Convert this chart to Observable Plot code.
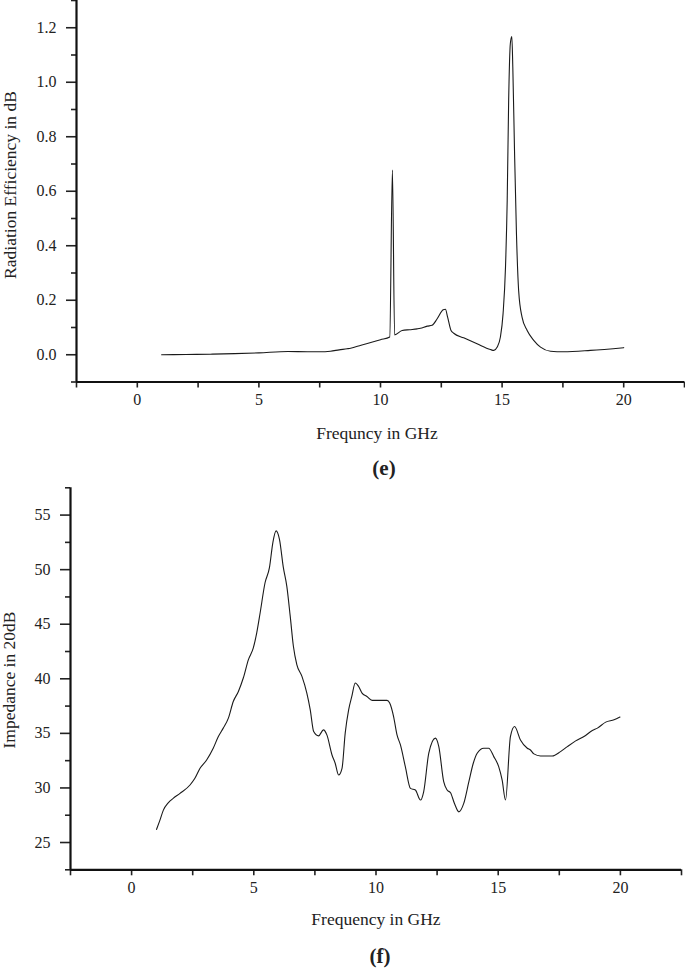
<!DOCTYPE html>
<html>
<head>
<meta charset="utf-8">
<script src="https://cdn.jsdelivr.net/npm/d3@7"></script>
<script src="https://cdn.jsdelivr.net/npm/@observablehq/plot@0.6"></script>
<style>
  html, body { margin: 0; padding: 0; background: #fff; }
  #wrap { position: relative; width: 685px; height: 971px; overflow: hidden; font-family: "Liberation Serif", "Times New Roman", serif; color: #222; }
  .abs { position: absolute; }
  .lbl { position: absolute; white-space: nowrap; line-height: 1; font-size: 17.5px; transform: translate(-50%, -50%); }
  .rot { transform: translate(-50%, -50%) rotate(-90deg); }
  .tag { font-weight: bold; font-size: 21px; }
  #wrap svg text { font-family: "Liberation Serif", "Times New Roman", serif; }
</style>
</head>
<body>
<div id="wrap">
  <div id="p1" class="abs" style="left:0;top:0"></div>
  <div id="p2" class="abs" style="left:0;top:480px"></div>
  <div class="lbl rot" style="left:11px;top:185px">Radiation Efficiency in dB</div>
  <div class="lbl" style="left:377px;top:434px">Frequncy in GHz</div>
  <div class="lbl tag" style="left:384px;top:468px">(e)</div>
  <div class="lbl rot" style="left:10px;top:680px">Impedance in 20dB</div>
  <div class="lbl" style="left:376px;top:920px">Frequency in GHz</div>
  <div class="lbl tag" style="left:380px;top:956px">(f)</div>
</div>
<script>
// ---- Chart (e): Radiation efficiency ----
const freqE = [1.0, 2.0, 3.0, 4.0, 5.0, 6.2, 7.0, 7.5, 7.94, 8.3, 8.63, 8.77, 9.2, 9.6, 10.0, 10.38,
  10.49, 10.58, 10.89, 11.2, 11.51, 11.64, 11.92, 12.12, 12.33, 12.58, 12.67, 12.76, 12.9, 13.01,
  13.42, 13.97, 14.52, 14.66, 14.8, 14.93, 15.04, 15.14, 15.21, 15.27, 15.34, 15.4, 15.44, 15.51,
  15.59, 15.68, 15.82, 16.03, 16.3, 16.58, 16.99, 17.53, 18.63, 20.0];
const effE = [0.0, 0.001, 0.002, 0.004, 0.007, 0.012, 0.011, 0.011, 0.013, 0.018, 0.022, 0.024, 0.035, 0.045, 0.055, 0.065,
  0.678, 0.073, 0.089, 0.092, 0.095, 0.097, 0.105, 0.108, 0.132, 0.165, 0.167, 0.138, 0.089, 0.079,
  0.062, 0.040, 0.019, 0.016, 0.028, 0.065, 0.151, 0.322, 0.567, 0.935, 1.143, 1.168, 1.057, 0.751,
  0.445, 0.236, 0.138, 0.089, 0.053, 0.028, 0.013, 0.011, 0.016, 0.026];

const xMajor = [0, 5, 10, 15, 20];
const xMinor = [-2.5, 2.5, 7.5, 12.5, 17.5, 22.5];
const yMajorE = [0.0, 0.2, 0.4, 0.6, 0.8, 1.0, 1.2];
const yMinorE = [-0.1, 0.1, 0.3, 0.5, 0.7, 0.9, 1.1, 1.3];

// ---- Chart (f): Impedance ----
const freqF = [1.02, 1.16, 1.3, 1.5, 1.7, 1.98, 2.39, 2.59, 2.8, 3.07, 3.34, 3.55, 3.75, 3.96, 4.16, 4.37,
  4.57, 4.78, 4.98, 5.12, 5.26, 5.46, 5.64, 5.78, 5.91, 6.05, 6.21, 6.35, 6.49, 6.62, 6.76, 6.97,
  7.17, 7.31, 7.45, 7.65, 7.85, 7.99, 8.2, 8.33, 8.47, 8.61, 8.74, 8.88, 9.01, 9.15, 9.29, 9.43,
  9.63, 9.84, 10.45, 10.56, 10.72, 10.86, 11.0, 11.2, 11.41, 11.61, 11.82, 11.95, 12.16, 12.43,
  12.57, 12.77, 12.91, 13.05, 13.21, 13.39, 13.59, 13.8, 13.98, 14.14, 14.41, 14.61, 14.82, 15.02,
  15.16, 15.3, 15.5, 15.67, 15.91, 16.19, 16.32, 16.46, 16.73, 17.21, 17.55, 17.83, 18.17, 18.51,
  18.85, 19.06, 19.4, 19.74, 19.98];
const impF = [26.2, 27.05, 27.97, 28.64, 29.04, 29.5, 30.27, 30.88, 31.8, 32.56, 33.64, 34.71, 35.48, 36.4, 37.92, 38.84,
  40.07, 41.76, 42.83, 44.21, 46.05, 48.8, 50.18, 52.48, 53.55, 52.78, 50.18, 48.49, 45.74, 42.98, 41.3, 40.22,
  38.69, 37.16, 35.17, 34.77, 35.32, 34.86, 33.02, 32.26, 31.19, 31.8, 35.02, 37.16, 38.38, 39.61, 39.3, 38.69,
  38.38, 38.02, 38.02, 37.78, 36.54, 34.86, 33.94, 31.95, 29.96, 29.81, 28.89, 29.65, 33.18, 34.56,
  33.79, 30.57, 29.81, 29.56, 28.58, 27.81, 28.58, 30.57, 32.26, 33.18, 33.64, 33.64, 32.87, 31.95,
  30.73, 28.89, 34.71, 35.63, 34.4, 33.64, 33.48, 33.12, 32.93, 32.93, 33.33, 33.79, 34.31, 34.71,
  35.26, 35.48, 36.03, 36.24, 36.49];
const yMajorF = [25, 30, 35, 40, 45, 50, 55];
const yMinorF = [22.5, 27.5, 32.5, 37.5, 42.5, 47.5, 52.5, 57.5];

const dataE = freqE.map((f, i) => ({f, v: effE[i]}));
const dataF = freqF.map((f, i) => ({f, v: impF[i]}));

const baseStyle = {fontFamily: "'Liberation Serif', 'Times New Roman', serif", fontSize: "16px", color: "#222", background: "transparent", overflow: "visible"};

function makeChart({data, yDomain, yMajor, yMinor, yFmt, height, mt, mb, ml, mr}) {
  return Plot.plot({
    width: 685, height,
    marginTop: mt, marginBottom: mb, marginLeft: ml, marginRight: mr,
    style: baseStyle,
    x: {domain: [-2.5, 22.5]},
    y: {domain: yDomain},
    marks: [
      Plot.axisX({ticks: xMajor, tickSize: 6, tickPadding: 6, strokeWidth: 1.6, label: null, tickFormat: d => String(d)}),
      Plot.axisX({ticks: xMinor, tickSize: 6, strokeWidth: 1.6, label: null, tickFormat: () => ""}),
      Plot.axisY({ticks: yMajor, tickSize: 10, tickPadding: 10, strokeWidth: 1.6, label: null, tickFormat: yFmt}),
      Plot.axisY({ticks: yMinor, tickSize: 5, strokeWidth: 1.6, label: null, tickFormat: () => ""}),
      Plot.ruleX([-2.5], {stroke: "#111", strokeWidth: 2.2}),
      Plot.ruleY([yDomain[0]], {stroke: "#111", strokeWidth: 2.2}),
      Plot.line(data, {x: "f", y: "v", stroke: "#1a1a1a", strokeWidth: 1.1, curve: "monotone-x"})
    ]
  });
}

document.getElementById("p1").appendChild(makeChart({
  data: dataE, yDomain: [-0.1, 1.3], yMajor: yMajorE, yMinor: yMinorE, yFmt: d3.format(".1f"),
  height: 410, mt: 0, mb: 28.5, ml: 76, mr: 1
}));
document.getElementById("p2").appendChild(makeChart({
  data: dataF, yDomain: [22.5, 57.5], yMajor: yMajorF, yMinor: yMinorF, yFmt: d => String(d),
  height: 420, mt: 7.3, mb: 30.7, ml: 70, mr: 4
}));
</script>
</body>
</html>
